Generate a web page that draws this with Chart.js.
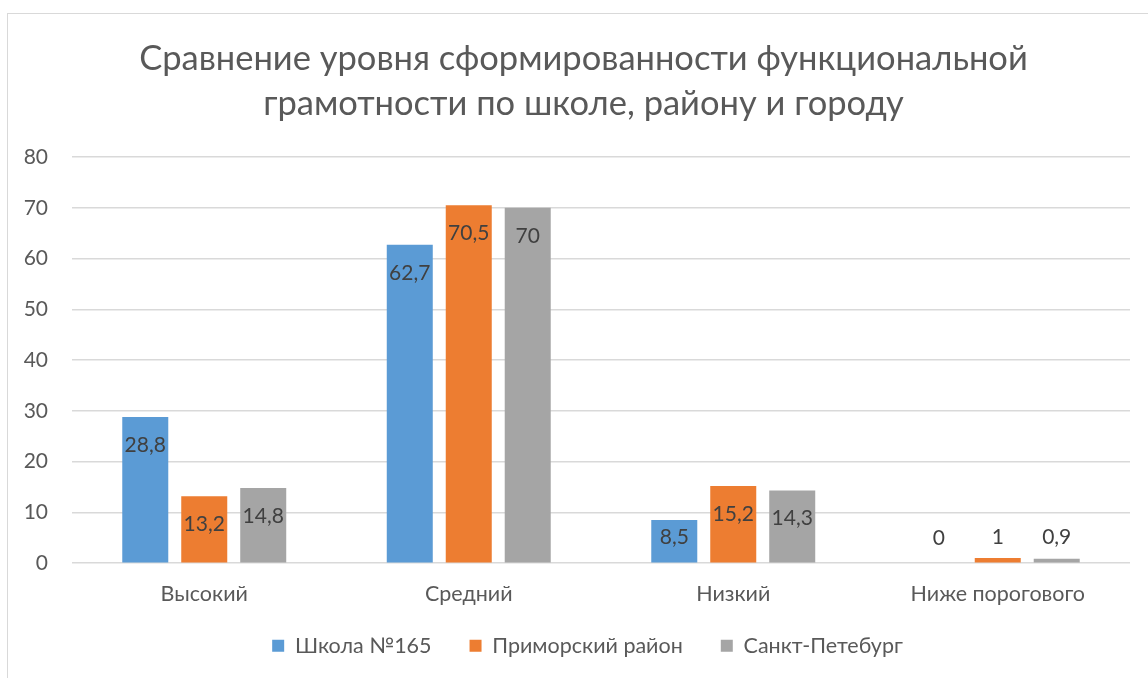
<!DOCTYPE html>
<html>
<head>
<meta charset="utf-8">
<script src="https://cdn.jsdelivr.net/npm/chart.js@4.4.0/dist/chart.umd.min.js"></script>
<style>
  html, body { margin: 0; padding: 0; background: #fff; width: 1148px; height: 678px; overflow: hidden; }
  #frame { position: absolute; left: 7px; top: 13px; width: 1200px; height: 700px; border-left: 1px solid #D9D9D9; border-top: 1px solid #D9D9D9; }
  #wrap { position: absolute; left: 0; top: 0; width: 1148px; height: 678px; }
</style>
</head>
<body>
<div id="frame"></div>
<div id="wrap"><canvas id="c" width="1148" height="678"></canvas></div>
<script>
const categories = ['Высокий', 'Средний', 'Низкий', 'Ниже порогового'];
const seriesNames = ['Школа №165', 'Приморский район', 'Санкт-Петебург'];
const school = [28.8, 62.7, 8.5, 0];
const district = [13.2, 70.5, 15.2, 1];
const city = [14.8, 70, 14.3, 0.9];
const yTicks = [0, 10, 20, 30, 40, 50, 60, 70, 80];
const titleLines = ['Сравнение уровня сформированности функциональной', 'грамотности по школе, району и городу'];
const colors = ['#5B9BD5', '#ED7D31', '#A5A5A5'];

const FONT = 'Lato, "Open Sans", sans-serif';
const TEXT = '#595959';

const labelPlugin = {
  id: 'barLabels',
  afterLayout(chart) {
    // centre title and legend over the frame like the original
    const t = chart.titleBlock;
    if (t) { t.left = 37; t.width = t.right - t.left; }
    const l = chart.legend;
    if (l) {
      l.left = 45; l.width = l.right - l.left;
      l.top = 597; l.bottom = chart.height; l.height = l.bottom - l.top;
    }
  },
  afterDatasetsDraw(chart) {
    const ctx = chart.ctx;
    ctx.save();
    ctx.font = '21px ' + FONT;
    ctx.fillStyle = '#404040';
    ctx.textAlign = 'center';
    ctx.textBaseline = 'middle';
    chart.data.datasets.forEach((ds, i) => {
      const meta = chart.getDatasetMeta(i);
      meta.data.forEach((bar, j) => {
        const v = ds.data[j];
        const txt = String(v).replace('.', ',');
        const y = Math.min(bar.y + 28, bar.base - 25);
        ctx.fillText(txt, bar.x, y);
      });
    });
    ctx.restore();
  }
};

new Chart(document.getElementById('c'), {
  type: 'bar',
  data: {
    labels: categories,
    datasets: [
      { label: seriesNames[0], data: school, backgroundColor: colors[0] },
      { label: seriesNames[1], data: district, backgroundColor: colors[1] },
      { label: seriesNames[2], data: city, backgroundColor: colors[2] }
    ]
  },
  options: {
    responsive: false,
    animation: false,
    devicePixelRatio: 1,
    categoryPercentage: 0.669,
    barPercentage: 0.78,
    layout: { padding: { left: 0, right: 18, top: 0, bottom: 0 } },
    plugins: {
      title: {
        display: true,
        text: titleLines,
        color: TEXT,
        font: { family: FONT, size: 34.5, weight: 'normal', lineHeight: 1.29 },
        padding: { top: 37, bottom: 31 }
      },
      legend: {
        position: 'bottom',
        maxHeight: 53,
        labels: {
          color: TEXT,
          font: { family: FONT, size: 21.5 },
          boxWidth: 12,
          boxHeight: 12,
          padding: 38
        }
      },
      tooltip: { enabled: false }
    },
    scales: {
      x: {
        grid: { display: false, drawTicks: false },
        border: { display: false },
        ticks: { color: TEXT, font: { family: FONT, size: 21.5 }, padding: 18 }
      },
      y: {
        min: 0,
        max: 80,
        afterBuildTicks(scale) { scale.ticks = yTicks.map(v => ({ value: v })); },
        afterFit(scale) { scale.width = 72; },
        grid: { color: '#D9D9D9', lineWidth: 1.5, drawTicks: false },
        border: { display: false },
        ticks: { color: TEXT, font: { family: FONT, size: 21 }, padding: 24 }
      }
    }
  },
  plugins: [labelPlugin]
});
</script>
</body>
</html>
